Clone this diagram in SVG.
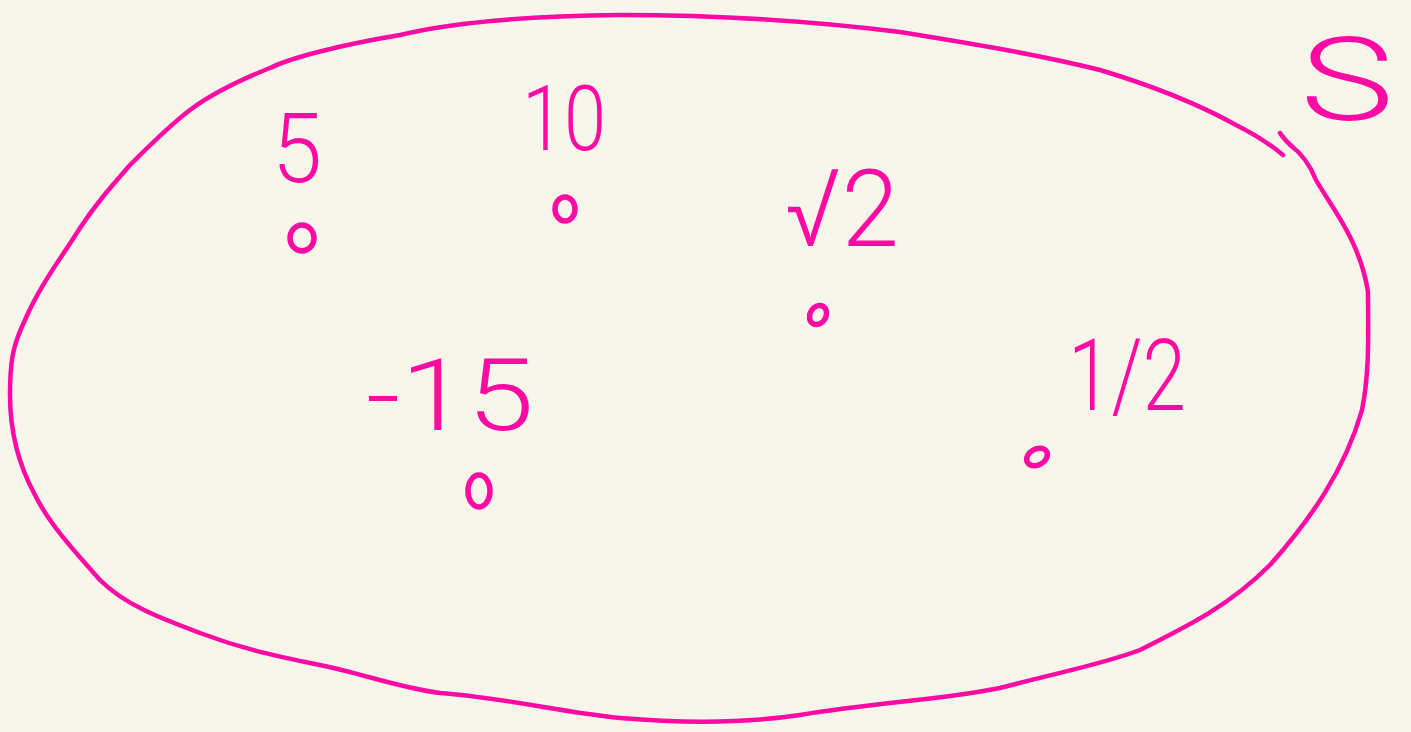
<svg xmlns="http://www.w3.org/2000/svg" width="1411" height="732" viewBox="0 0 1411 732">
<style>
.ink{fill:none;stroke:#FF0AA3;stroke-width:4.5;stroke-linecap:round;stroke-linejoin:round}
.dot{fill:none;stroke:#FF0AA3;stroke-width:5.5}
.lbl{fill:#FF0AA3;font-family:Roboto,"Liberation Sans",sans-serif;font-weight:300}
</style>
<rect width="1411" height="732" fill="#F8F6EA"/>
<g id="set-S">
<path class="ink" d="M1283,155 C1265,140 1250,132 1236,125 C1200,105 1160,88 1100,70 C1040,55 980,45 900,32 C820,22 720,15 620,15 C540,16 460,20 400,35 C340,45 290,58 270,68 C240,80 210,95 190,110 C170,125 150,145 130,165 C110,188 95,205 80,228 C60,260 40,285 25,320 C13,345 10,360 10,395 C10,430 17,462 35,495 C50,525 75,552 100,580 C125,605 160,618 200,633 C240,648 270,655 320,665 C360,673 400,688 440,693 C500,697 560,712 620,718 C680,723 740,724 800,715 C880,702 940,700 1000,688 C1060,672 1100,665 1140,650 C1190,625 1230,605 1270,565 C1310,520 1345,470 1362,410 C1370,370 1368,330 1368,292 C1360,240 1330,205 1316,180 C1310,165 1300,152 1290,145 M1280,133 C1283,138 1290,145 1293,147"/>
<text class="lbl" x="1300" y="120" font-size="116" textLength="94" lengthAdjust="spacingAndGlyphs">S</text>
</g>
<g id="element-5">
<text class="lbl" x="272" y="182" font-size="96" textLength="50" lengthAdjust="spacingAndGlyphs">5</text>
<ellipse class="dot" cx="302" cy="238" rx="12" ry="13"/>
</g>
<g id="element-10">
<text class="lbl" x="522" y="150" font-size="90" textLength="84" lengthAdjust="spacingAndGlyphs">10</text>
<ellipse class="dot" cx="565" cy="209" rx="10" ry="12"/>
</g>
<g id="element-sqrt2">
<text class="lbl" x="785" y="246" font-size="108" textLength="114" lengthAdjust="spacingAndGlyphs">√2</text>
<ellipse class="dot" cx="818" cy="315" rx="8" ry="10" transform="rotate(30 818 315)"/>
</g>
<g id="element-neg15">
<text class="lbl" x="366" y="430" font-size="100" textLength="168" lengthAdjust="spacingAndGlyphs">-15</text>
<ellipse class="dot" cx="479" cy="491" rx="11" ry="16"/>
</g>
<g id="element-half">
<text class="lbl" x="1068" y="410" font-size="100" textLength="118" lengthAdjust="spacingAndGlyphs">1/2</text>
<ellipse class="dot" cx="1037" cy="457" rx="11" ry="8" transform="rotate(-30 1037 457)"/>
</g>
<g id="connectors"/>
</svg>
